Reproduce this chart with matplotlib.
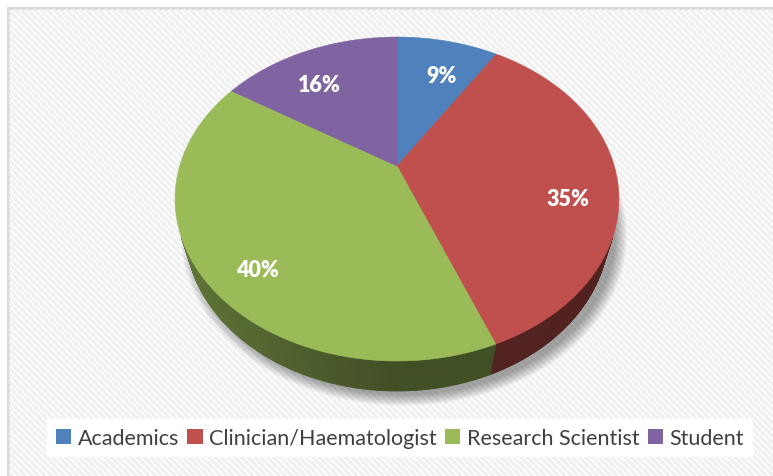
import numpy as np
import matplotlib.pyplot as plt
from matplotlib.patches import Polygon, Rectangle, Patch
from matplotlib.collections import LineCollection
from matplotlib.colors import to_rgb

plt.rcParams['font.family'] = ['Lato', 'DejaVu Sans']

categories = ["Academics", "Clinician/Haematologist", "Research Scientist", "Student"]
shares = [9, 35, 40, 16]
top_colors = ["#4f81bd", "#c0504d", "#9bbb59", "#8064a2"]

W, H = 773, 477

# camera for the tilted 3d pie, everything in pixel units
cx, cy = 397, 167
focal = 745.7
dist = 3.432
tilt = np.radians(45.6)
thick = 0.227


def project(x, z, h=0.0):
    s, c = np.sin(tilt), np.cos(tilt)
    yc = z * s + h * c
    zc = dist + z * c - h * s
    return cx + focal * x / zc, cy - focal * yc / zc


def shade(color, theta):
    # side walls: lighter on the left, dark at the front / right
    k = 0.42 + 0.23 * max(0.0, -np.cos(theta))
    r, g, b = to_rgb(color)
    return (r * k, g * k, b * k)


fig = plt.figure(figsize=(W / 100, H / 100), dpi=100)
ax = fig.add_axes([0, 0, 1, 1])
ax.set_xlim(0, W)
ax.set_ylim(H, 0)
ax.axis('off')

# hatched chart area with a light border
frame = Rectangle((8, 9), W, H, facecolor='white', edgecolor='#d9d9d9', lw=2.2, zorder=0)
ax.add_patch(frame)
segs = []
for x0 in np.arange(-H, W + 10, 6.5):
    segs.append([(x0, 0), (x0 + H, H)])
hatch = LineCollection(segs, colors='#f0f0f0', linewidths=2.2, zorder=0.5)
ax.add_collection(hatch)
hatch.set_clip_path(Rectangle((9, 10), W, H, transform=ax.transData))

# slice angles, clockwise from the far point
fracs = np.array(shares) / sum(shares)
edges = np.pi / 2 - 2 * np.pi * np.concatenate([[0], np.cumsum(fracs)])

# soft shadow
t_all = np.linspace(0, 2 * np.pi, 300)
bx, by = project(np.cos(t_all), np.sin(t_all), -thick)
for i in range(10):
    grow = 1 + 0.006 * i
    sx = cx + (bx - cx) * grow + 7
    sy = cy + 30 + (by - cy - 30) * grow + 4
    ax.add_patch(Polygon(np.column_stack([sx, sy]), closed=True, facecolor='#000000',
                         edgecolor='none', alpha=0.04, zorder=1))

# front-facing side walls
step = np.radians(0.5)
for i, col in enumerate(top_colors):
    a0, a1 = edges[i], edges[i + 1]
    n = max(2, int(abs(a1 - a0) / step))
    ts = np.linspace(a0, a1, n + 1)
    for t0, t1 in zip(ts[:-1], ts[1:]):
        tm = 0.5 * (t0 + t1)
        if np.sin(tm) > -1 / (dist * np.cos(tilt)):
            continue
        p = [project(np.cos(t0), np.sin(t0)), project(np.cos(t1), np.sin(t1)),
             project(np.cos(t1), np.sin(t1), -thick), project(np.cos(t0), np.sin(t0), -thick)]
        c = shade(col, tm)
        ax.add_patch(Polygon(p, closed=True, facecolor=c, edgecolor=c, lw=0.6, zorder=2))

# top faces
for i, col in enumerate(top_colors):
    ts = np.linspace(edges[i], edges[i + 1], 200)
    ux, uy = project(np.cos(ts), np.sin(ts))
    pts = np.vstack([[cx, cy], np.column_stack([ux, uy])])
    ax.add_patch(Polygon(pts, closed=True, facecolor=col, edgecolor=col, lw=0.4, zorder=3))

# percentage labels
for i, v in enumerate(shares):
    tm = 0.5 * (edges[i] + edges[i + 1])
    r = 0.78
    px, py = project(r * np.cos(tm), r * np.sin(tm))
    ex = 396 + r * 222 * np.cos(tm)
    ey = 200 - r * 162 * np.sin(tm)
    ax.text(0.5 * (px + ex), 0.5 * (py + ey) + 4, "%d%%" % v, color='white', fontsize=15.5,
            fontweight='heavy', ha='center', va='center', zorder=4)

handles = [Patch(facecolor=c, edgecolor='none') for c in top_colors]
leg = ax.legend(handles, categories, loc='center', bbox_to_anchor=(400 / W, 1 - 439 / H),
                ncol=4, frameon=True, fontsize=15.5, handlelength=0.7, handleheight=0.7,
                handletextpad=0.3, columnspacing=0.4, borderpad=0.4, fancybox=False)
leg.get_frame().set_facecolor('white')
leg.get_frame().set_edgecolor('none')
leg.get_frame().set_alpha(1)
for txt in leg.get_texts():
    txt.set_color('#404040')

fig.savefig('out.png', dpi=100)
